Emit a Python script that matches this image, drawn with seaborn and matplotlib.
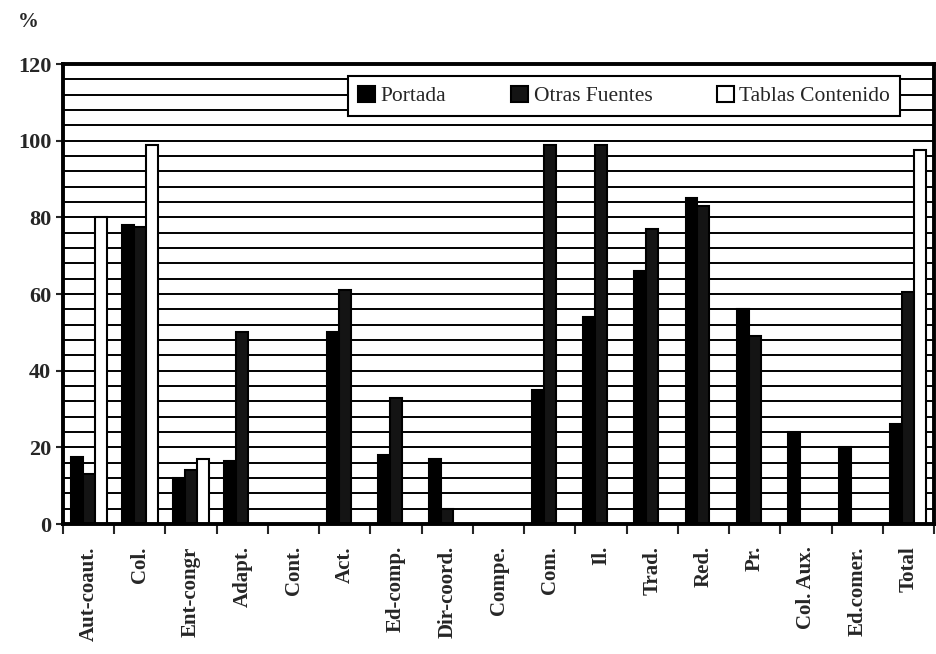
import numpy as np
import pandas as pd
import matplotlib
matplotlib.use('Agg')
import matplotlib.pyplot as plt
import seaborn as sns

categories = ['Aut-coaut.', 'Col.', 'Ent-congr', 'Adapt.', 'Cont.', 'Act.',
              'Ed-comp.', 'Dir-coord.', 'Compe.', 'Com.', 'Il.', 'Trad.',
              'Red.', 'Pr.', 'Col. Aux.', 'Ed.comer.', 'Total']
portada = [17.5, 78, 12, 16.5, 0, 50, 18, 17, 0, 35, 54, 66, 85, 56, 24, 20, 26]
otras = [13, 77.5, 14, 50, 0, 61, 33, 4, 0, 99, 99, 77, 83, 49, 0, 0, 60.5]
tablas = [80, 99, 17, 0, 0, 0, 0, 0, 0, 0, 0, 0, 0, 0, 0, 0, 97.5]
series = ['Portada', 'Otras Fuentes', 'Tablas Contenido']

df = pd.DataFrame({'cat': categories * 3,
                   'serie': [series[0]] * 17 + [series[1]] * 17 + [series[2]] * 17,
                   'val': portada + otras + tablas})

sns.set_style('ticks')
plt.rcParams['font.family'] = ['Liberation Serif', 'DejaVu Serif']

fig = plt.figure(figsize=(9.36, 6.54), dpi=100)
ax = fig.add_axes([63 / 936, 1 - 524 / 654, 871 / 936, 460 / 654])

pal = {'Portada': '#000000', 'Otras Fuentes': '#141414', 'Tablas Contenido': '#ffffff'}
sns.barplot(data=df, x='cat', y='val', hue='serie', palette=pal, width=0.7,
            edgecolor='black', linewidth=1.5, saturation=1, ax=ax, legend=True)

ax.set_xlim(-0.5, 16.5)
ax.set_ylim(0, 120)
ax.set_yticks(np.arange(0, 121, 20))
ax.set_yticks(np.arange(0, 121, 4), minor=True)
ax.grid(True, which='both', axis='y', color='black', linewidth=1.4)
ax.set_axisbelow(True)
ax.tick_params(axis='y', which='minor', length=0)
ax.tick_params(axis='y', which='major', length=5, width=1.5, labelsize=16)
for t in ax.get_yticklabels():
    t.set_fontweight('bold')
ax.set_xticks(np.arange(17))
ax.set_xticklabels(categories, rotation=90, fontsize=15, fontweight='bold')
ax.set_xticks(np.arange(-0.5, 17, 1), minor=True)
ax.tick_params(axis='x', which='major', length=0, pad=16)
ax.tick_params(axis='x', which='minor', length=7, width=1.5)
for s in ax.spines.values():
    s.set_linewidth(2.8)
    s.set_color('black')
ax.set_xlabel('')
ax.set_ylabel('')

leg = ax.legend(loc='upper right', bbox_to_anchor=(0.961, 0.974), ncol=3,
                frameon=True, fancybox=False, edgecolor='black', framealpha=1,
                fontsize=15.5, handlelength=0.8, handleheight=0.8,
                handletextpad=0.25, columnspacing=3.0, borderpad=0.45,
                borderaxespad=0)
leg.get_frame().set_linewidth(1.5)

fig.text(18 / 936, 1 - 22 / 654, '%', fontsize=15, fontweight='bold', va='center')

fig.savefig('out.png', dpi=100)
